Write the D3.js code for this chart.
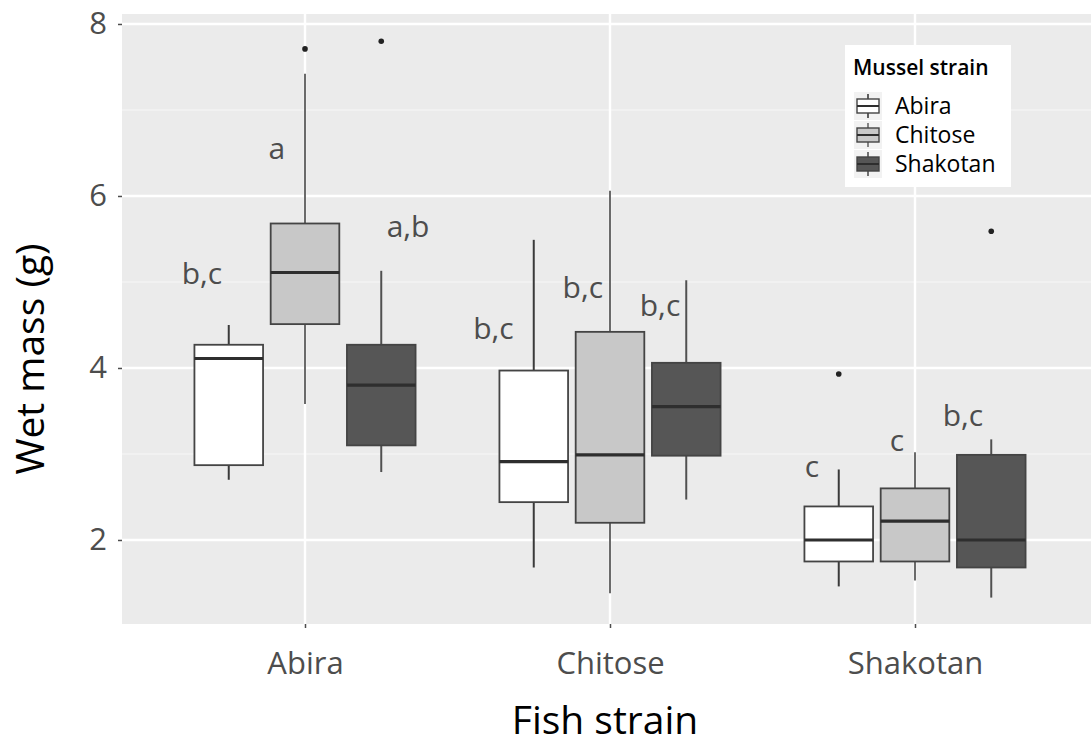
<html>
  <head>
    <script src='https://d3js.org/d3.v7.min.js'></script>
    <style>
      body { margin: 0; background: #fff; }
      text { font-family: 'Open Sans', sans-serif; }
    </style>
  </head>
  <body>
    <svg width=1091 height=746></svg>
    <script>
      // fish strain on the x axis, mussel strain as the dodged fill
      const FISH = ['Abira', 'Chitose', 'Shakotan'];
      const MUSSEL = ['Abira', 'Chitose', 'Shakotan'];
      const Y_TICKS = [2, 4, 6, 8];

      // one entry per box, fish-major order (Abira/Abira, Abira/Chitose, ...)
      const LOWER  = [2.70, 3.58, 2.79, 1.68, 1.38, 2.47, 1.46, 1.53, 1.33];
      const Q1     = [2.87, 4.51, 3.10, 2.44, 2.20, 2.98, 1.75, 1.75, 1.68];
      const MEDIAN = [4.11, 5.11, 3.80, 2.91, 2.99, 3.55, 2.00, 2.22, 2.00];
      const Q3     = [4.27, 5.68, 4.27, 3.97, 4.42, 4.06, 2.39, 2.60, 2.99];
      const UPPER  = [4.50, 7.42, 5.13, 5.49, 6.06, 5.02, 2.82, 3.02, 3.17];
      const OUTLIERS = [[], [7.71], [7.80], [], [], [], [3.93], [], [5.59]];

      // significance letters, x in category units (Abira = 1), y in grams
      const LETTERS = ['b,c', 'a', 'a,b', 'b,c', 'b,c', 'b,c', 'c', 'c', 'b,c'];
      const LETTER_X = [0.662, 0.908, 1.338, 1.618, 1.911, 2.164, 2.662, 2.941, 3.157];
      const LETTER_Y = [4.98, 6.43, 5.52, 4.34, 4.81, 4.60, 2.73, 3.04, 3.33];

      const FILLS = ['#ffffff', '#c8c8c8', '#565656'];
      const WHISKER = ['#3a3a3a', '#6a6a6a', '#505050'];

      const svg = d3.select('svg');
      const pLeft = 122, pRight = 1098, pTop = 14, pBottom = 624;

      const x = d3.scaleLinear().domain([0.4, 3.6]).range([pLeft, pRight]);
      const y = d3.scaleLinear().domain([1.023, 8.116]).range([pBottom, pTop]);
      const dodge = d3.scaleBand().domain(MUSSEL).range([-0.375, 0.375]);
      const boxW = dodge.bandwidth() * 0.9;

      // panel
      svg.append('rect').attr('x', pLeft).attr('y', pTop)
        .attr('width', pRight - pLeft).attr('height', pBottom - pTop)
        .attr('fill', '#ebebeb');

      const minor = [3, 5, 7];
      svg.append('g').selectAll('line').data(minor).enter().append('line')
        .attr('x1', pLeft).attr('x2', pRight)
        .attr('y1', d => y(d)).attr('y2', d => y(d))
        .attr('stroke', '#f7f7f7').attr('stroke-width', 1.2);

      svg.append('g').selectAll('line').data(Y_TICKS).enter().append('line')
        .attr('x1', pLeft).attr('x2', pRight)
        .attr('y1', d => y(d)).attr('y2', d => y(d))
        .attr('stroke', '#ffffff').attr('stroke-width', 2.4);

      svg.append('g').selectAll('line').data(FISH).enter().append('line')
        .attr('x1', (d, i) => x(i + 1)).attr('x2', (d, i) => x(i + 1))
        .attr('y1', pTop).attr('y2', pBottom)
        .attr('stroke', '#ffffff').attr('stroke-width', 2.4);

      // boxes
      const boxes = LOWER.map(function(v, i) {
        const f = Math.floor(i / 3), m = i % 3;
        return {f: f, m: m, cx: f + 1 + dodge(MUSSEL[m]) + dodge.bandwidth() / 2,
                lo: v, q1: Q1[i], med: MEDIAN[i], q3: Q3[i], hi: UPPER[i], out: OUTLIERS[i]};
      });

      const g = svg.append('g').selectAll('g').data(boxes).enter().append('g');

      g.append('line')
        .attr('x1', d => x(d.cx)).attr('x2', d => x(d.cx))
        .attr('y1', d => y(d.hi)).attr('y2', d => y(d.q3))
        .attr('stroke', d => WHISKER[d.m]).attr('stroke-width', 2);
      g.append('line')
        .attr('x1', d => x(d.cx)).attr('x2', d => x(d.cx))
        .attr('y1', d => y(d.q1)).attr('y2', d => y(d.lo))
        .attr('stroke', d => WHISKER[d.m]).attr('stroke-width', 2);

      g.append('rect')
        .attr('x', d => x(d.cx - boxW / 2)).attr('y', d => y(d.q3))
        .attr('width', x(boxW) - x(0)).attr('height', d => y(d.q1) - y(d.q3))
        .attr('fill', d => FILLS[d.m]).attr('stroke', '#444').attr('stroke-width', 1.8);

      g.append('line')
        .attr('x1', d => x(d.cx - boxW / 2)).attr('x2', d => x(d.cx + boxW / 2))
        .attr('y1', d => y(d.med)).attr('y2', d => y(d.med))
        .attr('stroke', '#2e2e2e').attr('stroke-width', 3.2);

      g.selectAll('circle').data(d => d.out.map(v => ({cx: d.cx, v: v}))).enter().append('circle')
        .attr('cx', d => x(d.cx)).attr('cy', d => y(d.v)).attr('r', 2.8)
        .attr('fill', '#222');

      // letters
      svg.append('g').selectAll('text').data(LETTERS).enter().append('text')
        .attr('x', (d, i) => x(LETTER_X[i])).attr('y', (d, i) => y(LETTER_Y[i]))
        .attr('text-anchor', 'middle').attr('font-size', 30).attr('fill', '#4d4d4d')
        .text(d => d);

      // axes
      const yAxis = svg.append('g').attr('transform', 'translate(' + pLeft + ',0)')
        .call(d3.axisLeft(y).tickValues(Y_TICKS).tickSize(4).tickPadding(11).tickFormat(d3.format('d')));
      yAxis.select('.domain').remove();
      yAxis.selectAll('line').attr('stroke', '#4d4d4d').attr('stroke-width', 1.5);
      yAxis.selectAll('text').attr('font-size', 31).attr('fill', '#4d4d4d')
        .attr('font-family', "'Open Sans', sans-serif");

      const xAxis = svg.append('g').attr('transform', 'translate(0,' + pBottom + ')')
        .call(d3.axisBottom(x).tickValues([1, 2, 3]).tickSize(4).tickPadding(24).tickFormat(d => FISH[d - 1]));
      xAxis.select('.domain').remove();
      xAxis.selectAll('line').attr('stroke', '#4d4d4d').attr('stroke-width', 1.5);
      xAxis.selectAll('text').attr('font-size', 31).attr('fill', '#4d4d4d')
        .attr('font-family', "'Open Sans', sans-serif");

      svg.append('text').attr('x', 605).attr('y', 734).attr('text-anchor', 'middle')
        .attr('font-size', 39).attr('fill', '#000').text('Fish strain');
      svg.append('text').attr('transform', 'translate(44,359) rotate(-90)').attr('text-anchor', 'middle')
        .attr('font-size', 39).attr('fill', '#000').text('Wet mass (g)');

      // legend
      const lg = svg.append('g');
      lg.append('rect').attr('x', 845).attr('y', 45).attr('width', 166).attr('height', 142).attr('fill', '#fff');
      lg.append('text').attr('x', 853).attr('y', 75).attr('font-size', 21).attr('font-weight', 600)
        .attr('fill', '#000').text('Mussel strain');
      const key = lg.selectAll('g.key').data(MUSSEL).enter().append('g').attr('class', 'key')
        .attr('transform', (d, i) => 'translate(854,' + (92 + i * 29) + ')');
      key.append('rect').attr('width', 28).attr('height', 28).attr('fill', '#f2f2f2');
      key.append('line').attr('x1', 14).attr('x2', 14).attr('y1', 2).attr('y2', 26)
        .attr('stroke', (d, i) => WHISKER[i]).attr('stroke-width', 1.6);
      key.append('rect').attr('x', 3).attr('y', 7).attr('width', 22).attr('height', 14)
        .attr('fill', (d, i) => FILLS[i]).attr('stroke', '#444').attr('stroke-width', 1.4);
      key.append('line').attr('x1', 3).attr('x2', 25).attr('y1', 14).attr('y2', 14)
        .attr('stroke', '#2e2e2e').attr('stroke-width', 2);
      key.append('text').attr('x', 41).attr('y', 22).attr('font-size', 23).attr('fill', '#000')
        .text(d => d);
    </script>
  </body>
</html>
